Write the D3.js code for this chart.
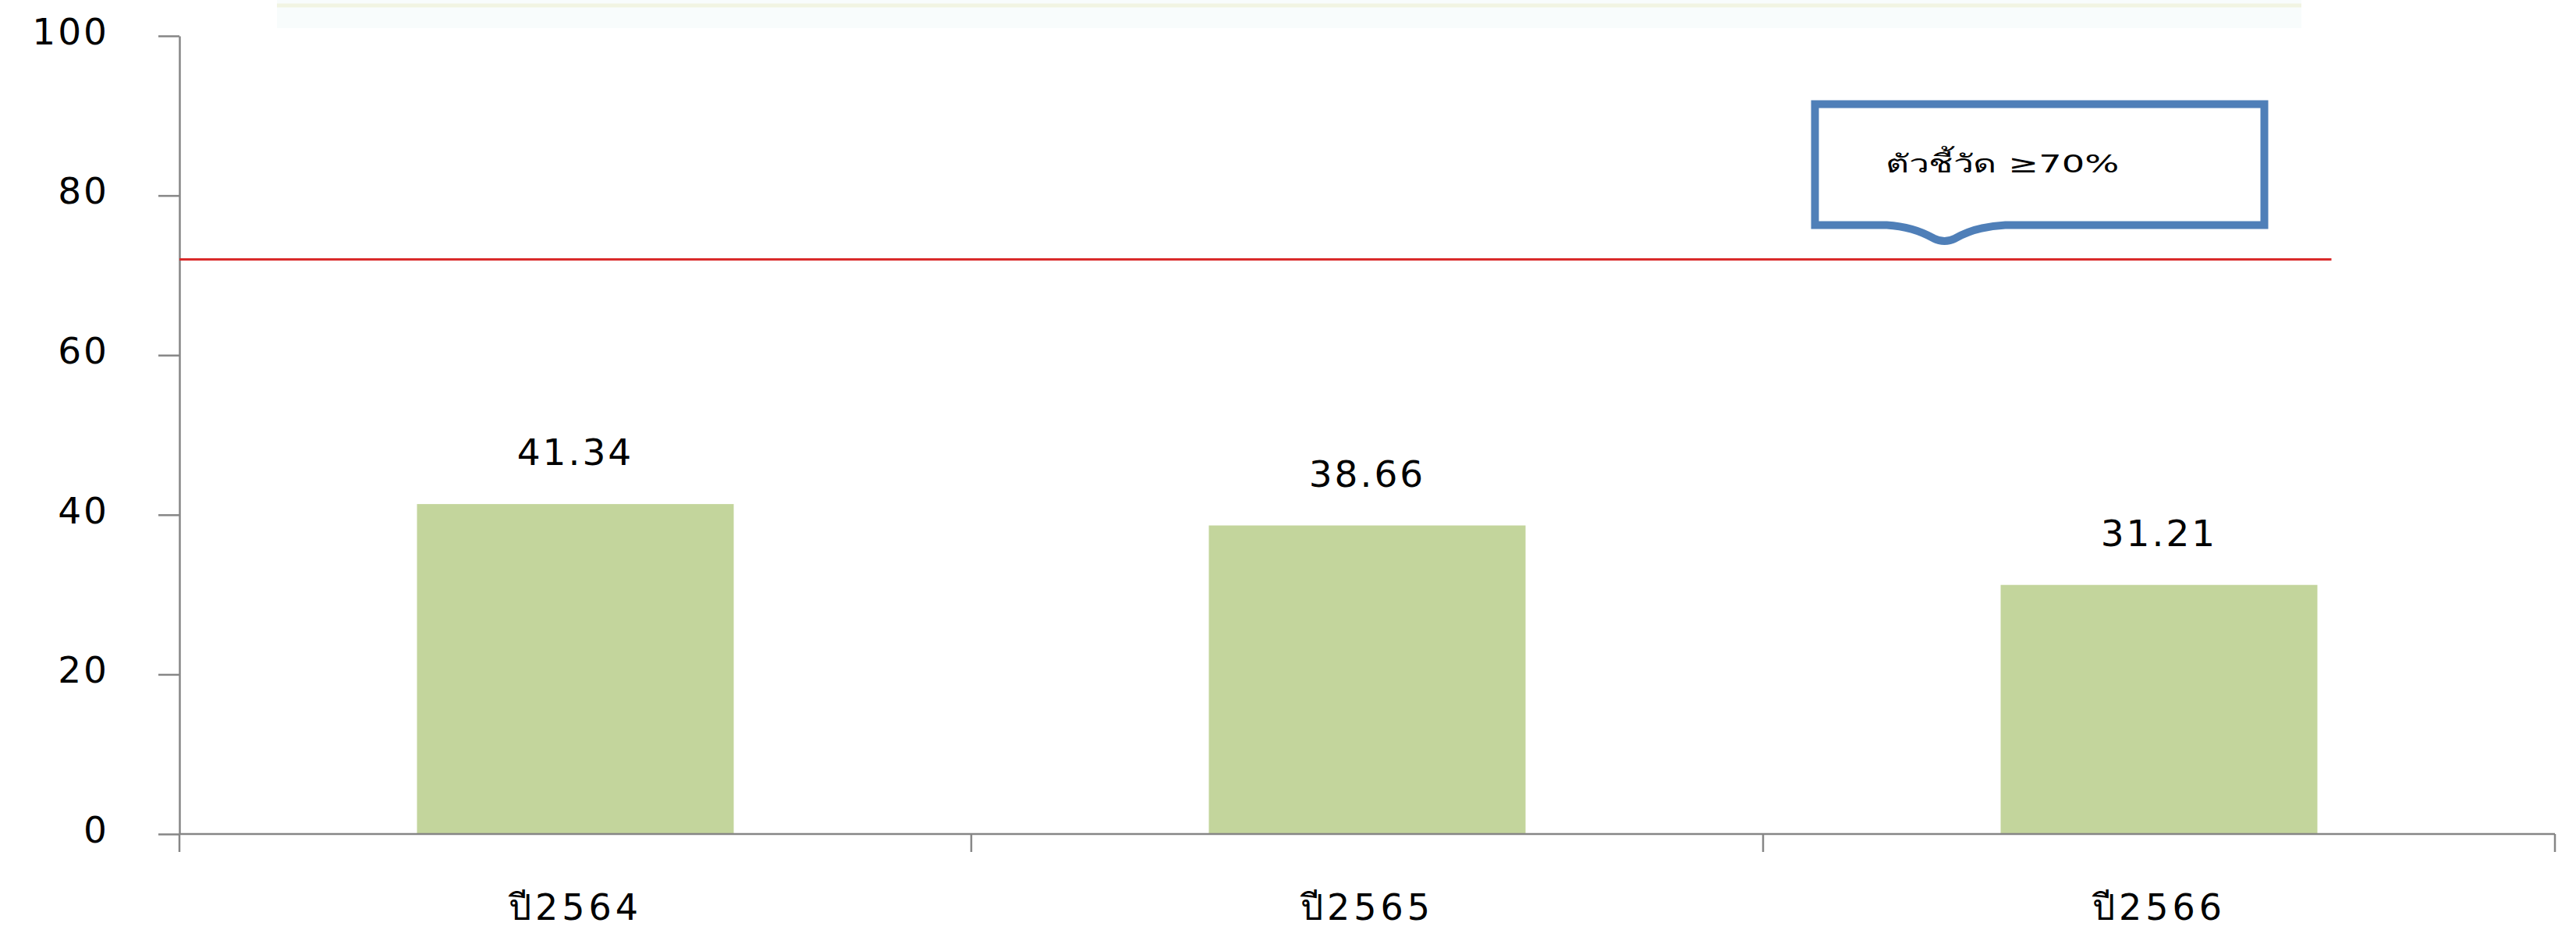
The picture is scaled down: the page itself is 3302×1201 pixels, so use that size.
<!DOCTYPE html>
<html>
<head>
<meta charset="utf-8">
<script src="https://cdn.jsdelivr.net/npm/d3@7"></script>
<style>
  body { margin: 0; background: #fff; }
  svg { display: block; }
  .tickText { font-family: "DejaVu Sans", Verdana, sans-serif; font-size: 47px; fill: #000; letter-spacing: 3px; }
</style>
</head>
<body>
<div class="barChart"></div>
<script>
// Chart data
const years = ["ปี2564", "ปี2565", "ปี2566"];
const values = [41.34, 38.66, 31.21];
const yTicks = [0, 20, 40, 60, 80, 100];
const targetValue = 72;
const targetLabel = "ตัวชี้วัด ≥70%";

const width = 3302;
const height = 1201;
const margin = { top: 46, right: 27, bottom: 132, left: 230 };

const svg = d3.select(".barChart")
    .append("svg")
    .attr("width", width)
    .attr("height", height);

// Faint edge of the box above the chart (cut off in the original)
svg.append("rect")
    .attr("x", 355)
    .attr("y", 0)
    .attr("width", 2595)
    .attr("height", 36)
    .attr("fill", "#f8fcfc");
svg.append("line")
    .attr("x1", 355).attr("x2", 2950)
    .attr("y1", 7).attr("y2", 7)
    .attr("stroke", "#f1f4e2")
    .attr("stroke-width", 5);

// Scales
const x = d3.scaleBand()
    .domain(years)
    .range([margin.left, width - margin.right])
    .paddingInner(0.6)
    .paddingOuter(0.3);

const y = d3.scaleLinear()
    .domain([0, 100])
    .range([height - margin.bottom, margin.top]);

// Bars
svg.append("g")
    .selectAll("rect")
    .data(values)
    .join("rect")
    .attr("x", (d, i) => x(years[i]))
    .attr("y", d => y(d))
    .attr("width", x.bandwidth())
    .attr("height", d => y(0) - y(d))
    .attr("fill", "#c3d59c");

// Value labels
svg.append("g")
    .selectAll("text")
    .data(values)
    .join("text")
    .attr("class", "tickText")
    .attr("x", (d, i) => x(years[i]) + x.bandwidth() / 2)
    .attr("y", d => y(d) - 50)
    .attr("text-anchor", "middle")
    .text(d => d.toFixed(2));

// Y axis
const yAxis = svg.append("g")
    .attr("transform", `translate(${margin.left},0)`)
    .call(d3.axisLeft(y).tickValues(yTicks).tickSize(27).tickPadding(63).tickSizeOuter(0));
yAxis.select(".domain").attr("stroke", "#868686").attr("stroke-width", 2.5);
yAxis.selectAll(".tick line").attr("stroke", "#868686").attr("stroke-width", 2.5);
yAxis.selectAll(".tick text")
    .attr("class", "tickText")
    .attr("dy", "0.22em");

// X axis: line with ticks at the category boundaries
const gap = x.step() - x.bandwidth();
const bounds = years.map(c => x(c) - gap / 2).concat([x(years[years.length - 1]) + x.bandwidth() + gap / 2]);
const xAxis = svg.append("g");
xAxis.append("line")
    .attr("x1", bounds[0]).attr("x2", bounds[bounds.length - 1])
    .attr("y1", y(0)).attr("y2", y(0))
    .attr("stroke", "#868686")
    .attr("stroke-width", 2.5);
xAxis.selectAll(".bound")
    .data(bounds)
    .join("line")
    .attr("class", "bound")
    .attr("x1", d => d).attr("x2", d => d)
    .attr("y1", y(0)).attr("y2", y(0) + 23)
    .attr("stroke", "#868686")
    .attr("stroke-width", 2.5);
xAxis.selectAll(".catLabel")
    .data(years)
    .join("text")
    .attr("class", "tickText catLabel")
    .attr("x", d => x(d) + x.bandwidth() / 2)
    .attr("y", y(0) + 110)
    .attr("text-anchor", "middle")
    .style("font-size", "46px")
    .style("letter-spacing", "5px")
    .text(d => d);

// Target line
svg.append("line")
    .attr("x1", margin.left)
    .attr("x2", x(years[2]) + x.bandwidth() + 18)
    .attr("y1", y(targetValue))
    .attr("y2", y(targetValue))
    .attr("stroke", "#d92b2b")
    .attr("stroke-width", 3);

// Callout box with a pointer towards the target line
const bx0 = x(years[2]) - 238;
const bx1 = bx0 + 576;
const by1 = y(targetValue) - 44;
const by0 = by1 - 155;
const px = bx0 + 166;
const callout = d3.path();
callout.moveTo(bx0, by0);
callout.lineTo(bx1, by0);
callout.lineTo(bx1, by1);
callout.lineTo(px + 78, by1);
callout.quadraticCurveTo(px + 40, by1 + 2, px + 14, by1 + 17);
callout.quadraticCurveTo(px, by1 + 24, px - 14, by1 + 17);
callout.quadraticCurveTo(px - 40, by1 + 2, px - 74, by1);
callout.lineTo(bx0, by1);
callout.closePath();

svg.append("path")
    .attr("d", callout.toString())
    .attr("fill", "#fff")
    .attr("stroke", "#4f7fb8")
    .attr("stroke-width", 10)
    .attr("stroke-linejoin", "miter");

svg.append("text")
    .attr("transform", `translate(${bx0 + 90},${by0 + 88}) scale(1.45,1)`)
    .style("font-family", "'DejaVu Sans', sans-serif")
    .style("font-size", "32px")
    .attr("fill", "#000")
    .text(targetLabel);
</script>
</body>
</html>
